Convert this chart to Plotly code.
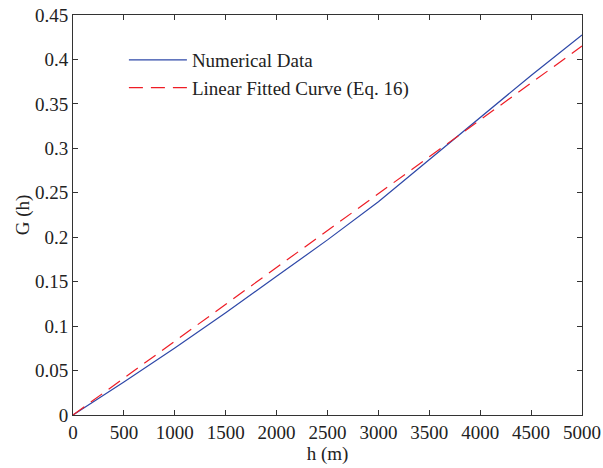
import plotly.graph_objects as go

h_num = [0, 500, 1000, 1500, 2000, 2500, 3000, 3500, 4000, 4500, 5000]
g_num = [0, 0.037, 0.0755, 0.115, 0.156, 0.197, 0.240, 0.287, 0.335, 0.382, 0.4275]
h_fit = [0, 5000]
g_fit = [0, 0.415]
x_ticks = [0, 500, 1000, 1500, 2000, 2500, 3000, 3500, 4000, 4500, 5000]
y_ticks = [0, 0.05, 0.1, 0.15, 0.2, 0.25, 0.3, 0.35, 0.4, 0.45]
y_labels = ["0", "0.05", "0.1", "0.15", "0.2", "0.25", "0.3", "0.35", "0.4", "0.45"]

fig = go.Figure()
fig.add_trace(go.Scatter(x=h_num, y=g_num, mode="lines", name="Numerical Data",
                         line=dict(color="#2e48a8", width=1.2)))
fig.add_trace(go.Scatter(x=h_fit, y=g_fit, mode="lines", name="Linear Fitted Curve (Eq. 16)",
                         line=dict(color="#ee1c25", width=1.2, dash="14px,8px")))

font = dict(family="Liberation Serif, Times New Roman, serif", size=19, color="#222")
axis_common = dict(showgrid=False, zeroline=False, showline=True, linecolor="#333",
                   linewidth=1, mirror="ticks", ticks="inside", ticklen=5,
                   tickcolor="#333", tickfont=font, automargin=False,
                   ticklabeloverflow="allow")

fig.update_layout(
    width=603, height=468,
    margin=dict(l=73, r=21, t=15, b=53),
    plot_bgcolor="white", paper_bgcolor="white",
    font=font,
    showlegend=True,
    legend=dict(x=0.1, y=0.935, xanchor="left", yanchor="top",
                bgcolor="rgba(0,0,0,0)", borderwidth=0, font=font,
                tracegroupgap=0, itemwidth=58),
    xaxis=dict(range=[0, 5000], tickvals=x_ticks, ticklabelstandoff=0,
               title=dict(text="h (m)", font=font, standoff=0),
               **axis_common),
    yaxis=dict(range=[0, 0.45], tickvals=y_ticks, ticktext=y_labels, ticklabelstandoff=0,
               title=dict(text="G (h)", font=font, standoff=0), **axis_common),
)

fig.write_html("out.html", config={"displayModeBar": False},
               post_script="document.body.style.margin='0';document.body.style.overflow='hidden';")
